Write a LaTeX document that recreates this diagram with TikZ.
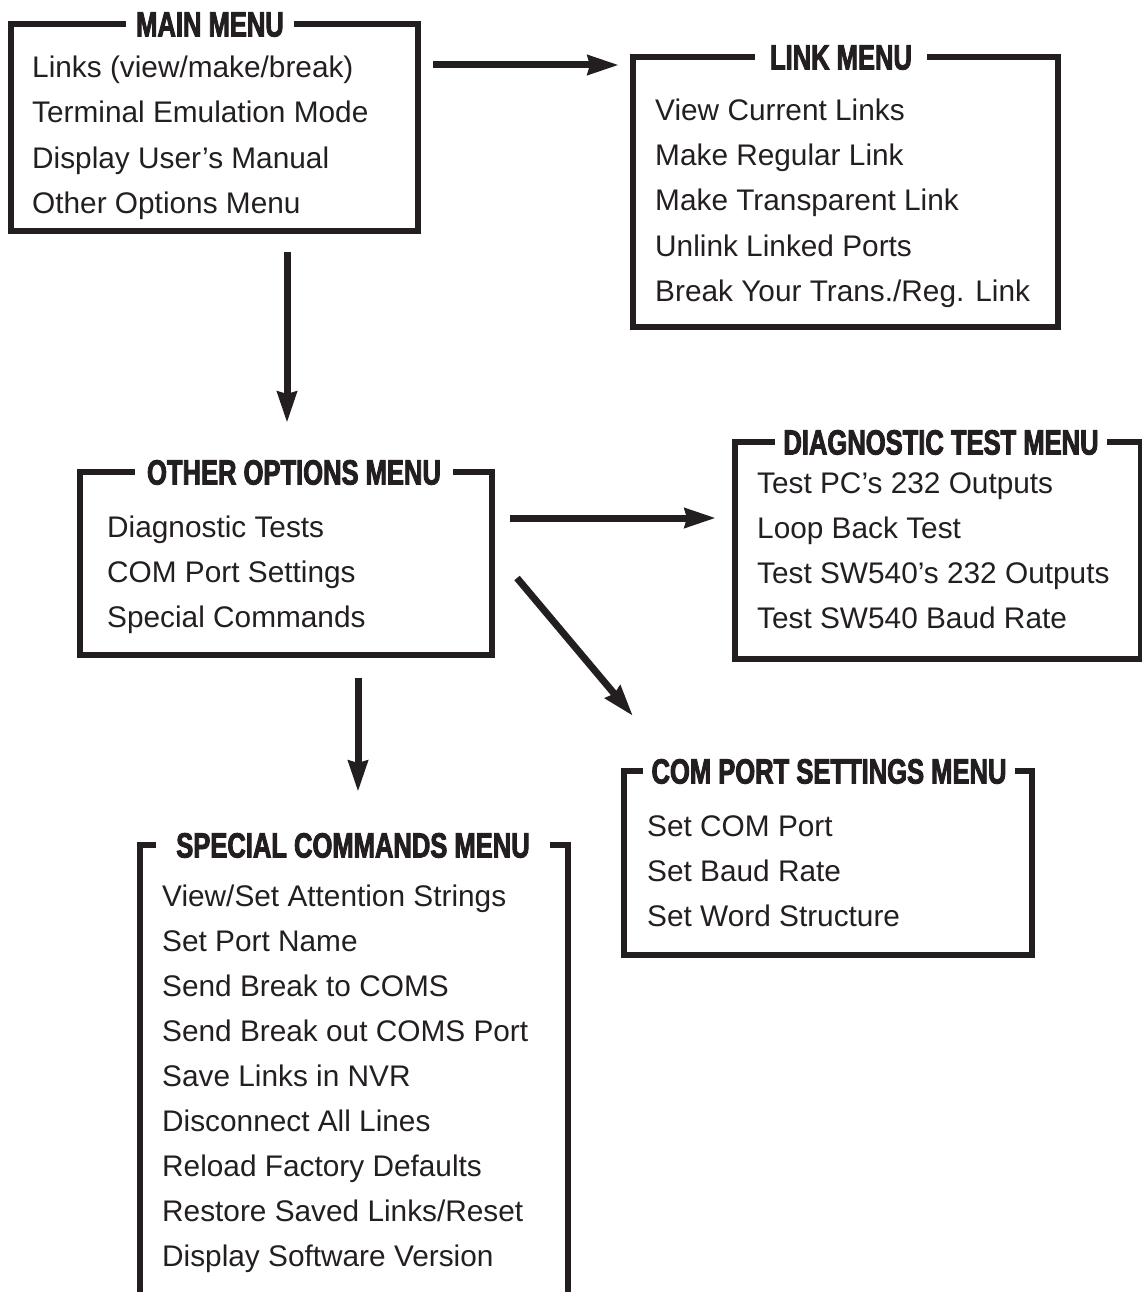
\documentclass[tikz,border=0pt]{standalone}
\usepackage{fontspec}
\setmainfont{Liberation Sans}
\newfontfamily\titlefont[FakeStretch=0.73,FakeBold=2.5]{Liberation Sans Bold}
\usetikzlibrary{arrows.meta}
\definecolor{ink}{RGB}{35,31,32}
\tikzset{
  menubox/.style={draw=ink, line width=6pt, rectangle, inner sep=0pt},
  menutitle/.style={fill=white, text=ink, font=\titlefont\fontsize{35}{35}\selectfont,
    text height=25pt, text depth=0pt, inner ysep=5pt, inner xsep=12pt},
  item/.style={anchor=base west, text=ink, inner sep=0pt, font=\fontsize{29.8}{36}\selectfont},
  flow/.style={draw=ink, line width=7pt, -{Stealth[length=31pt,width=19pt,inset=2pt]}}
}
\begin{document}
\begin{tikzpicture}[x=1pt,y=-1pt]
\useasboundingbox (0,0) rectangle (1142,1292);
% boxes
\node[menubox, minimum width=407.5pt, minimum height=207pt] (mainbox) at (214.25,127.5) {};
\node[menubox, minimum width=425pt, minimum height=270pt] (linkbox) at (845.5,192) {};
\node[menubox, minimum width=412pt, minimum height=183pt] (otherbox) at (286,563.5) {};
\node[menubox, minimum width=406pt, minimum height=217pt] (diagbox) at (938,550.5) {};
\node[menubox, minimum width=408pt, minimum height=184pt] (combox) at (828,863) {};
\node[menubox, minimum width=428pt, minimum height=475pt] (specbox) at (354,1082.5) {};
% titles
\node[menutitle, inner xsep=10pt] (maint) at (210,24) {MAIN MENU};
\node[menutitle, inner xsep=15pt] (linkt) at (841,57) {LINK MENU};
\node[menutitle] (othert) at (294,472) {OTHER OPTIONS MENU};
\node[menutitle, inner xsep=8pt] (diagt) at (941,442) {DIAGNOSTIC TEST MENU};
\node[menutitle, inner xsep=9pt] (comt) at (829,771) {COM PORT SETTINGS MENU};
\node[menutitle, inner xsep=20pt] (spect) at (353,845) {SPECIAL COMMANDS MENU};
% main menu items
\node[item] (m1) at (32,78) {Links (view/make/break)};
\node[item] (m2) at (32,123) {Terminal Emulation Mode};
\node[item] (m3) at (32,168) {Display User’s Manual};
\node[item] (m4) at (32,213) {Other Options Menu};
% link menu items
\node[item] (l1) at (655,121) {View Current Links};
\node[item] (l2) at (655,166) {Make Regular Link};
\node[item] (l3) at (655,211) {Make Transparent Link};
\node[item] (l4) at (655,256) {Unlink Linked Ports};
\node[item] (l5) at (655,301) {Break Your Trans./Reg. Link};
% other options items
\node[item] (o1) at (107,537) {Diagnostic Tests};
\node[item] (o2) at (107,582) {COM Port Settings};
\node[item] (o3) at (107,627) {Special Commands};
% diagnostic items
\node[item] (d1) at (757,493) {Test PC’s 232 Outputs};
\node[item] (d2) at (757,538) {Loop Back Test};
\node[item] (d3) at (757,583) {Test SW540’s 232 Outputs};
\node[item] (d4) at (757,628) {Test SW540 Baud Rate};
% com port items
\node[item] (c1) at (647,836) {Set COM Port};
\node[item] (c2) at (647,881) {Set Baud Rate};
\node[item] (c3) at (647,926) {Set Word Structure};
% special command items
\node[item] (s1) at (162,906) {View/Set Attention Strings};
\node[item] (s2) at (162,951) {Set Port Name};
\node[item] (s3) at (162,996) {Send Break to COMS};
\node[item] (s4) at (162,1041) {Send Break out COMS Port};
\node[item] (s5) at (162,1086) {Save Links in NVR};
\node[item] (s6) at (162,1131) {Disconnect All Lines};
\node[item] (s7) at (162,1176) {Reload Factory Defaults};
\node[item] (s8) at (162,1221) {Restore Saved Links/Reset};
\node[item] (s9) at (162,1266) {Display Software Version};
% arrow end points
\coordinate (a1s) at (433,65);  \coordinate (a1e) at (619,65);
\coordinate (a2s) at (287,252); \coordinate (a2e) at (287,423);
\coordinate (a3s) at (510,518); \coordinate (a3e) at (716,518);
\coordinate (a4s) at (517,578); \coordinate (a4e) at (633,716);
\coordinate (a5s) at (358,678); \coordinate (a5e) at (358,792);
\draw[flow] (a1s) -- (a1e);
\draw[flow] (a2s) -- (a2e);
\draw[flow] (a3s) -- (a3e);
\draw[flow] (a4s) -- (a4e);
\draw[flow] (a5s) -- (a5e);
\end{tikzpicture}
\end{document}
